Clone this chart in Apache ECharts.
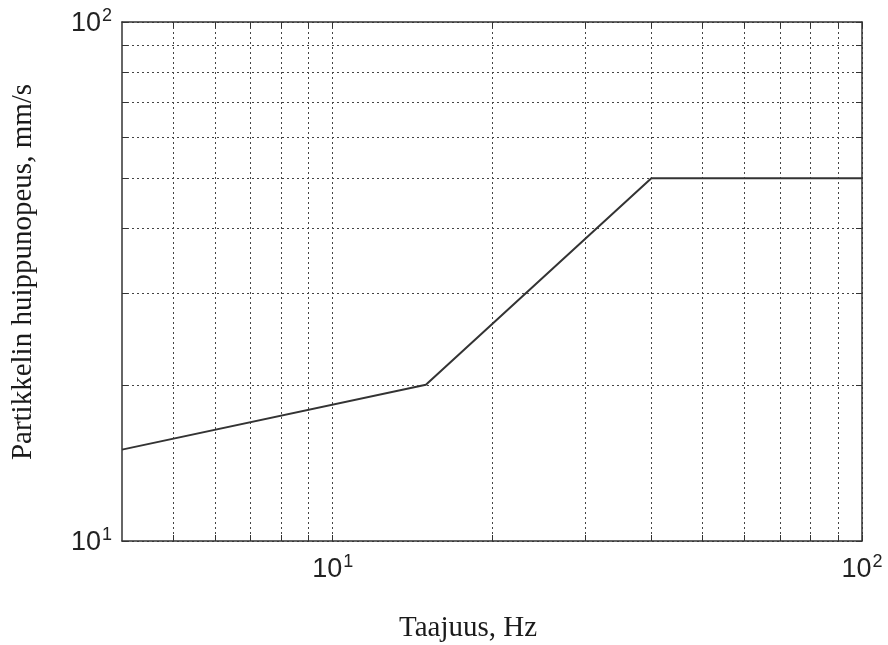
<!DOCTYPE html>
<html><head><meta charset="utf-8">
<script src="https://cdn.jsdelivr.net/npm/echarts@6/dist/echarts.min.js"></script>
<style>html,body{margin:0;padding:0;background:#fff}#c{width:888px;height:645px}</style>
</head><body><div id="c"></div>
<script>
// Data
const freq = [4, 15, 40, 100];
const velocity = [15, 20, 50, 50];
const xTicks = [5, 6, 7, 8, 9, 10, 20, 30, 40, 50, 60, 70, 80, 90, 100];
const yTicks = [10, 20, 30, 40, 50, 60, 70, 80, 90, 100];
const xLabels = [10, 100];
const yLabels = [10, 100];
const xName = 'Taajuus, Hz';
const yName = 'Partikkelin huippunopeus, mm/s';

function pow10(v) {
  const e = Math.round(Math.log10(v));
  return '{b|10}{s|' + e + '}';
}
const LF = '"Liberation Sans Narrow", "Liberation Sans"';
const rich = {
  b: {fontFamily: LF, fontSize: 27, color: '#222', verticalAlign: 'bottom', lineHeight: 28},
  s: {fontFamily: LF, fontSize: 18, color: '#222', verticalAlign: 'top', padding: [0,0,12,1]}
};
const splitStyle = {show: true, lineStyle: {color: '#444', width: 1, type: [2, 3]}};
function xAxis(pos, showLab) {
  return {
    type: 'log', logBase: 10, min: 4, max: 100, position: pos,
    axisLine: {show: true, lineStyle: {color: '#333', width: 1.5}},
    axisTick: {show: true, inside: true, length: 6, customValues: xTicks, lineStyle: {color: '#333'}},
    axisLabel: {show: showLab, customValues: xLabels, formatter: pow10, rich: rich, fontSize: 27, fontFamily: LF, margin: 12},
    splitLine: pos === 'bottom' ? splitStyle : {show: false},
    minorTick: {show: false}
  };
}
function yAxis(pos, showLab) {
  return {
    type: 'log', logBase: 10, min: 10, max: 100, position: pos,
    axisLine: {show: true, lineStyle: {color: '#333', width: 1.5}},
    axisTick: {show: true, inside: true, length: 6, customValues: yTicks, lineStyle: {color: '#333'}},
    axisLabel: {show: showLab, customValues: yLabels, formatter: pow10, rich: rich, fontSize: 27, fontFamily: LF, margin: 10},
    splitLine: pos === 'left' ? splitStyle : {show: false}
  };
}
const chart = echarts.init(document.getElementById('c'));
chart.setOption({
  animation: false,
  backgroundColor: '#fff',
  grid: {left: 122, right: 26, top: 22, bottom: 104, show: false},
  xAxis: [xAxis('bottom', true), xAxis('top', false)],
  yAxis: [yAxis('left', true), yAxis('right', false)],
  graphic: [
    {type: 'text', x: 468, y: 628, style: {text: xName, font: '29px "Liberation Serif"', fill: '#1a1a1a', align: 'center', verticalAlign: 'middle'}},
    {type: 'text', x: 23, y: 272, rotation: Math.PI / 2, style: {text: yName, font: '29px "Liberation Serif"', fill: '#1a1a1a', align: 'center', verticalAlign: 'middle'}}
  ],
  series: [{
    type: 'line', xAxisIndex: 0, yAxisIndex: 0,
    data: freq.map((f, i) => [f, velocity[i]]),
    symbol: 'none', lineStyle: {color: '#333', width: 2}
  }]
});
</script></body></html>
